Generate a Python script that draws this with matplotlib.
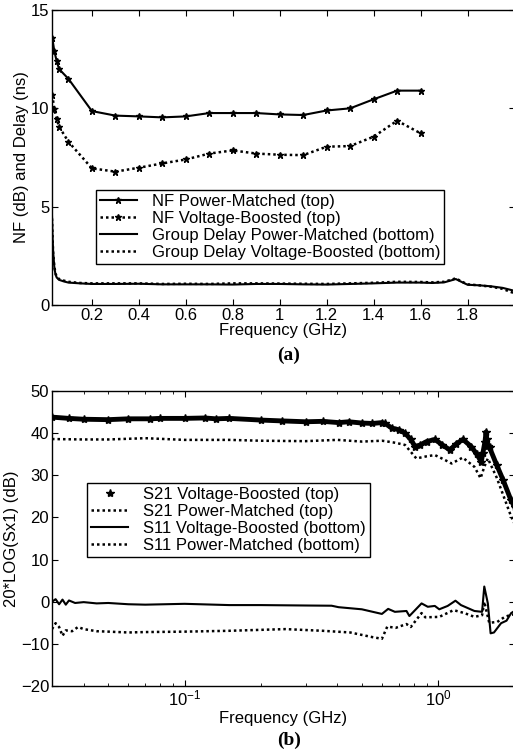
import matplotlib
matplotlib.use("Agg")
import matplotlib.pyplot as plt

plt.rcParams['font.family'] = ['Liberation Sans', 'DejaVu Sans']
FS = 12

# ---------------- (a) NF and group delay ----------------
nf_freq = [0.031, 0.04, 0.05, 0.06, 0.1, 0.2, 0.3, 0.4, 0.5, 0.6, 0.7, 0.8, 0.9,
           1.0, 1.1, 1.2, 1.3, 1.4, 1.5, 1.6]
nf_pm = [13.6, 12.9, 12.4, 12.0, 11.5, 9.86, 9.63, 9.59, 9.54, 9.59, 9.76, 9.76, 9.76,
         9.69, 9.66, 9.89, 10.0, 10.46, 10.9, 10.9]
nf_vb = [10.68, 9.96, 9.46, 9.07, 8.3, 6.95, 6.78, 6.98, 7.2, 7.4, 7.7, 7.86, 7.7,
         7.64, 7.62, 8.05, 8.08, 8.56, 9.37, 8.73]

gd_freq = [0.03, 0.032, 0.035, 0.04, 0.045, 0.05, 0.06, 0.08, 0.1, 0.15, 0.2, 0.3, 0.4,
           0.5, 0.6, 0.7, 0.8, 0.9, 1.0, 1.1, 1.2, 1.3, 1.4, 1.5, 1.6, 1.65, 1.7, 1.73,
           1.75, 1.77, 1.8, 1.85, 1.9, 1.95, 1.98, 2.0]
gd_pm = [4.5, 3.6, 2.7, 1.9, 1.55, 1.4, 1.28, 1.2, 1.14, 1.1, 1.07, 1.07, 1.08,
         1.05, 1.05, 1.05, 1.04, 1.07, 1.07, 1.05, 1.04, 1.07, 1.1, 1.14, 1.14, 1.12, 1.15, 1.25,
         1.32, 1.2, 1.03, 1.0, 0.95, 0.87, 0.78, 0.72]
gd_vb = [4.4, 3.5, 2.6, 1.95, 1.6, 1.45, 1.32, 1.24, 1.18, 1.12, 1.1, 1.1, 1.1,
         1.07, 1.08, 1.07, 1.1, 1.1, 1.09, 1.08, 1.07, 1.1, 1.13, 1.18, 1.17, 1.15, 1.18, 1.28,
         1.36, 1.22, 1.05, 1.0, 0.93, 0.82, 0.68, 0.6]

# ---------------- (b) S-parameters ----------------
s21_vb_freq = [0.03, 0.035, 0.04, 0.05, 0.06, 0.073, 0.08, 0.1, 0.12, 0.133, 0.15, 0.2,
               0.243, 0.3, 0.35, 0.405, 0.444, 0.5, 0.55, 0.6, 0.618, 0.656, 0.70, 0.74,
               0.78, 0.811, 0.85, 0.9, 0.971, 1.04, 1.112, 1.18, 1.253, 1.351, 1.42, 1.479,
               1.50, 1.53, 1.545, 1.555, 1.57, 1.594, 1.7, 1.8, 1.937, 2.0]
s21_vb = [43.8, 43.5, 43.3, 43.2, 43.4, 43.4, 43.5, 43.5, 43.6, 43.4, 43.5, 43.1,
          42.9, 42.7, 42.8, 42.5, 42.7, 42.4, 42.3, 42.5, 42.3, 41.2, 40.8, 40.0,
          38.5, 36.8, 37.2, 38.0, 38.5, 37.2, 36.0, 37.5, 38.5, 36.8, 35.0, 33.2,
          35.2, 38.0, 40.3, 38.5, 37.0, 36.6, 32.5, 29.0, 24.1, 22.5]

s21_pm_freq = [0.03, 0.04, 0.05, 0.07, 0.1, 0.15, 0.2, 0.3, 0.4, 0.5, 0.6, 0.618, 0.68,
               0.74, 0.82, 0.9, 0.97, 1.05, 1.13, 1.25, 1.39, 1.47, 1.52, 1.57, 1.7, 1.8,
               1.94, 2.0]
s21_pm = [38.6, 38.5, 38.5, 38.8, 38.4, 38.4, 38.2, 38.1, 38.4, 38.0, 38.2, 38.1, 37.7,
          37.2, 34.0, 34.5, 34.8, 33.8, 32.8, 34.2, 32.0, 29.3, 32.0, 34.0, 29.5, 25.5,
          20.2, 18.5]

s11_vb_freq = [0.03, 0.031, 0.032, 0.033, 0.034, 0.035, 0.037, 0.04, 0.045, 0.05, 0.06,
               0.07, 0.1, 0.15, 0.2, 0.3, 0.38, 0.405, 0.5, 0.6, 0.635, 0.675, 0.75,
               0.77, 0.86, 0.91, 0.97, 1.01, 1.09, 1.17, 1.23, 1.39, 1.49, 1.52, 1.57,
               1.61, 1.66, 1.77, 1.86, 1.94, 2.0]
s11_vb = [0.0, 0.6, -0.6, 0.5, -0.7, 0.3, -0.3, -0.1, -0.4, -0.3, -0.6, -0.7, -0.5,
          -0.8, -0.8, -0.9, -0.95, -1.3, -1.8, -2.9, -1.7, -2.4, -2.2, -3.4, -0.4,
          -1.2, -1.0, -1.8, -1.0, 0.24, -0.8, -2.2, -2.4, 3.6, -0.4, -7.5, -7.3, -5.1,
          -4.5, -2.7, -2.2]

s11_pm_freq = [0.03, 0.031, 0.032, 0.033, 0.034, 0.036, 0.038, 0.04, 0.045, 0.05, 0.06,
               0.07, 0.1, 0.15, 0.25, 0.35, 0.45, 0.55, 0.6, 0.63, 0.68, 0.75, 0.78,
               0.86, 0.89, 1.01, 1.15, 1.27, 1.39, 1.49, 1.52, 1.59, 1.71, 1.83, 1.94, 2.0]
s11_pm = [-6.5, -5.1, -6.0, -8.1, -6.8, -7.0, -6.0, -6.5, -7.0, -7.1, -7.3, -7.2, -7.1,
          -6.9, -6.5, -6.9, -7.3, -8.4, -8.8, -5.9, -6.2, -5.3, -6.0, -2.7, -3.7, -3.6,
          -2.0, -2.7, -3.6, -3.2, 0.0, -5.0, -4.8, -3.6, -3.1, -3.0]

W, H = 513, 752
fig = plt.figure(figsize=(W / 100, H / 100), dpi=100)

DOT = (0, (1, 1.2))

def pos(x0, y0, x1, y1):
    return [x0 / W, 1 - y1 / H, (x1 - x0) / W, (y1 - y0) / H]

def style(ax):
    ax.tick_params(which='both', direction='in', top=True, right=True)
    ax.tick_params(which='major', length=4, width=0.8, labelsize=FS, pad=2)
    ax.tick_params(which='minor', length=2.5, width=0.6)
    for s in ax.spines.values():
        s.set_linewidth(1.0)

def legend(ax, anchor):
    leg = ax.legend(loc='upper left', bbox_to_anchor=anchor, borderaxespad=0,
                    fontsize=FS, frameon=True, fancybox=False, edgecolor='black',
                    framealpha=1, handlelength=2.2, handletextpad=0.9, borderpad=0.25,
                    labelspacing=0.12)
    leg.get_frame().set_linewidth(1.0)

# Top
ax1 = fig.add_axes(pos(52, 10, 514.5, 305))
ax1.plot(nf_freq, nf_pm, '-', color='black', lw=1.5, marker='*', ms=5,
         label='NF Power-Matched (top)')
ax1.plot(nf_freq, nf_vb, linestyle=DOT, color='black', lw=1.8, marker='*', ms=5,
         label='NF Voltage-Boosted (top)')
ax1.plot(gd_freq, gd_pm, '-', color='black', lw=1.5,
         label='Group Delay Power-Matched (bottom)')
ax1.plot(gd_freq, gd_vb, linestyle=DOT, color='black', lw=1.8,
         label='Group Delay Voltage-Boosted (bottom)')
ax1.set_xlim(0.03, 2.0)
ax1.set_ylim(0, 15)
ax1.set_xticks([0.2, 0.4, 0.6, 0.8, 1.0, 1.2, 1.4, 1.6, 1.8])
ax1.set_xticklabels(['0.2', '0.4', '0.6', '0.8', '1', '1.2', '1.4', '1.6', '1.8'])
ax1.set_yticks([0, 5, 10, 15])
style(ax1)
ax1.set_xlabel('Frequency (GHz)', fontsize=FS, labelpad=0)
ax1.set_ylabel('NF (dB) and Delay (ns)', fontsize=FS, labelpad=1)
legend(ax1, (0.095, 0.39))
fig.text(289 / W, 1 - 355 / H, '(a)', ha='center', va='center', fontsize=14,
         fontweight='bold', family=['Liberation Serif'])

# Bottom
ax2 = fig.add_axes(pos(52, 391, 514.5, 686))
ax2.plot(s21_vb_freq, s21_vb, '-', color='black', lw=3.5)
ax2.plot(s21_vb_freq, s21_vb, linestyle='none', color='black', marker='*', ms=6,
         label='S21 Voltage-Boosted (top)')
ax2.plot(s21_pm_freq, s21_pm, linestyle=DOT, color='black', lw=1.8,
         label='S21 Power-Matched (top)')
ax2.plot(s11_vb_freq, s11_vb, '-', color='black', lw=1.5,
         label='S11 Voltage-Boosted (bottom)')
ax2.plot(s11_pm_freq, s11_pm, linestyle=DOT, color='black', lw=1.8,
         label='S11 Power-Matched (bottom)')
ax2.set_xscale('log')
ax2.set_xlim(0.03, 2.0)
ax2.set_ylim(-20, 50)
ax2.set_yticks([-20, -10, 0, 10, 20, 30, 40, 50])
style(ax2)
ax2.set_xlabel('Frequency (GHz)', fontsize=FS, labelpad=2)
ax2.set_ylabel('20*LOG(Sx1) (dB)', fontsize=FS, labelpad=1)
legend(ax2, (0.076, 0.689))
fig.text(289 / W, 1 - 740 / H, '(b)', ha='center', va='center', fontsize=14,
         fontweight='bold', family=['Liberation Serif'])

fig.savefig('out.png', dpi=100)
